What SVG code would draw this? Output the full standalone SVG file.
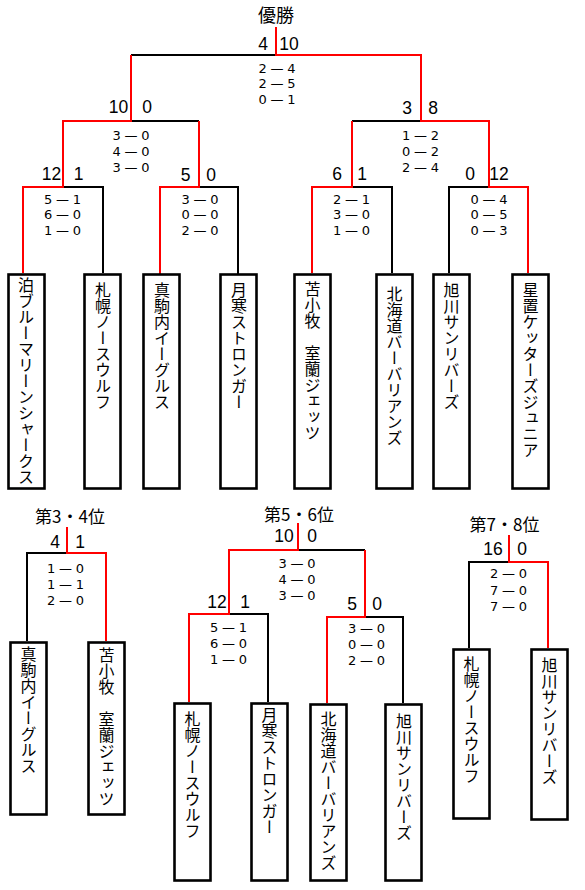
<svg xmlns="http://www.w3.org/2000/svg" width="585" height="890" viewBox="0 0 585 890">
<style>
.r{fill:none;stroke:#f00;stroke-width:2}
.k{fill:none;stroke:#000;stroke-width:2}
.box{fill:#fff;stroke:#000;stroke-width:2.6}
text{font-family:"Noto Sans CJK JP","Noto Sans CJK SC",sans-serif;fill:#000}
.nm{font-size:16px;writing-mode:vertical-rl}
.hd{font-size:17px;text-anchor:middle}
.sc{font-family:"Liberation Sans",Arial,sans-serif;font-size:17.5px;text-anchor:middle}
.rs{font-family:"DejaVu Sans",sans-serif;font-size:13px;text-anchor:middle}
</style>
<rect width="585" height="890" fill="#fff"/>
<g id="connectors">
<path class="k" d="M103,273V187H63M238,275V187H199M392,273V187H352M449,273V187H489M199,121H131M352,121H421M131,55H276"/>
<path class="r" d="M528,273V187H489V121H421V55H276V27"/>
<path class="r" d="M23,273V187H63V121H131V55"/>
<path class="r" d="M160,275V187H199V121"/>
<path class="r" d="M312,273V187H352V121"/>
<path class="k" d="M27,641V553H67"/>
<path class="r" d="M106,641V553H67V527"/>
<path class="k" d="M268,702V614H229M403,703V617H365M365,550H298"/>
<path class="r" d="M189,702V614H229V550H298V523"/>
<path class="r" d="M327,703V617H365V550"/>
<path class="k" d="M469,648V562H509"/>
<path class="r" d="M548,648V562H509V535"/>
</g>
<g id="labels">
<text class="hd" x="276" y="22" style="font-size:18px">優勝</text>
<text class="sc" x="263" y="50">4</text><text class="sc" x="289" y="50">10</text>
<text class="rs" x="277" y="73" textLength="37" lengthAdjust="spacing">2—4</text>
<text class="rs" x="277" y="88" textLength="37" lengthAdjust="spacing">2—5</text>
<text class="rs" x="277" y="104" textLength="37" lengthAdjust="spacing">0—1</text>
<text class="sc" x="118.5" y="113">10</text><text class="sc" x="147" y="113">0</text>
<text class="rs" x="131" y="140" textLength="37" lengthAdjust="spacing">3—0</text>
<text class="rs" x="131" y="156" textLength="37" lengthAdjust="spacing">4—0</text>
<text class="rs" x="131" y="172" textLength="37" lengthAdjust="spacing">3—0</text>
<text class="sc" x="407" y="114">3</text><text class="sc" x="433" y="114">8</text>
<text class="rs" x="420.5" y="140" textLength="37" lengthAdjust="spacing">1—2</text>
<text class="rs" x="420.5" y="156" textLength="37" lengthAdjust="spacing">0—2</text>
<text class="rs" x="420.5" y="172" textLength="37" lengthAdjust="spacing">2—4</text>
<text class="sc" x="51.5" y="180">12</text><text class="sc" x="78.5" y="180">1</text>
<text class="rs" x="62.5" y="204" textLength="37" lengthAdjust="spacing">5—1</text>
<text class="rs" x="62.5" y="219" textLength="37" lengthAdjust="spacing">6—0</text>
<text class="rs" x="62.5" y="235" textLength="37" lengthAdjust="spacing">1—0</text>
<text class="sc" x="185.5" y="181">5</text><text class="sc" x="211" y="181">0</text>
<text class="rs" x="200" y="204" textLength="37" lengthAdjust="spacing">3—0</text>
<text class="rs" x="200" y="219" textLength="37" lengthAdjust="spacing">0—0</text>
<text class="rs" x="200" y="235" textLength="37" lengthAdjust="spacing">2—0</text>
<text class="sc" x="337" y="180">6</text><text class="sc" x="362" y="180">1</text>
<text class="rs" x="351.5" y="204" textLength="37" lengthAdjust="spacing">2—1</text>
<text class="rs" x="351.5" y="219" textLength="37" lengthAdjust="spacing">3—0</text>
<text class="rs" x="351.5" y="235" textLength="37" lengthAdjust="spacing">1—0</text>
<text class="sc" x="470" y="180">0</text><text class="sc" x="499" y="180">12</text>
<text class="rs" x="489" y="204" textLength="37" lengthAdjust="spacing">0—4</text>
<text class="rs" x="489" y="219" textLength="37" lengthAdjust="spacing">0—5</text>
<text class="rs" x="489" y="235" textLength="37" lengthAdjust="spacing">0—3</text>
<text class="hd" x="70" y="523">第3・4位</text>
<text class="sc" x="55" y="548">4</text><text class="sc" x="80" y="548">1</text>
<text class="rs" x="65.5" y="573" textLength="37" lengthAdjust="spacing">1—0</text>
<text class="rs" x="65.5" y="589" textLength="37" lengthAdjust="spacing">1—1</text>
<text class="rs" x="65.5" y="605" textLength="37" lengthAdjust="spacing">2—0</text>
<text class="hd" x="299" y="521">第5・6位</text>
<text class="sc" x="284" y="542">10</text><text class="sc" x="312" y="542">0</text>
<text class="rs" x="297" y="568" textLength="37" lengthAdjust="spacing">3—0</text>
<text class="rs" x="297" y="584" textLength="37" lengthAdjust="spacing">4—0</text>
<text class="rs" x="297" y="600" textLength="37" lengthAdjust="spacing">3—0</text>
<text class="sc" x="217" y="608">12</text><text class="sc" x="245" y="608">1</text>
<text class="rs" x="228.5" y="632" textLength="37" lengthAdjust="spacing">5—1</text>
<text class="rs" x="228.5" y="648" textLength="37" lengthAdjust="spacing">6—0</text>
<text class="rs" x="228.5" y="664" textLength="37" lengthAdjust="spacing">1—0</text>
<text class="sc" x="352" y="610">5</text><text class="sc" x="377" y="610">0</text>
<text class="rs" x="366.5" y="633" textLength="37" lengthAdjust="spacing">3—0</text>
<text class="rs" x="366.5" y="649" textLength="37" lengthAdjust="spacing">0—0</text>
<text class="rs" x="366.5" y="665" textLength="37" lengthAdjust="spacing">2—0</text>
<text class="hd" x="504.5" y="531">第7・8位</text>
<text class="sc" x="493" y="555">16</text><text class="sc" x="522" y="555">0</text>
<text class="rs" x="508.5" y="578" textLength="37" lengthAdjust="spacing">2—0</text>
<text class="rs" x="508.5" y="595" textLength="37" lengthAdjust="spacing">7—0</text>
<text class="rs" x="508.5" y="611" textLength="37" lengthAdjust="spacing">7—0</text>
</g>
<g id="t1"><rect class="box" x="8.5" y="274.5" width="36" height="214"/><text class="nm" x="26" y="277">泊ブルーマリーンシャークス</text></g>
<g id="t2"><rect class="box" x="84.5" y="274.5" width="36" height="214"/><text class="nm" x="103" y="282">札幌ノースウルフ</text></g>
<g id="t3"><rect class="box" x="143.5" y="274.5" width="36" height="214"/><text class="nm" x="162" y="282">真駒内イーグルス</text></g>
<g id="t4"><rect class="box" x="220.5" y="274.5" width="36" height="214"/><text class="nm" x="239" y="282">月寒ストロンガー</text></g>
<g id="t5"><rect class="box" x="294.5" y="274.5" width="36" height="214"/><text class="nm" x="312.5" y="281">苫小牧　室蘭ジェッツ</text></g>
<g id="t6"><rect class="box" x="376.5" y="274.5" width="36" height="214"/><text class="nm" x="394.5" y="286">北海道バーバリアンズ</text></g>
<g id="t7"><rect class="box" x="433.5" y="274.5" width="36" height="214"/><text class="nm" x="451.5" y="282">旭川サンリバーズ</text></g>
<g id="t8"><rect class="box" x="512.5" y="274.5" width="36" height="214"/><text class="nm" x="530.5" y="282">星置ケッターズジュニア</text></g>
<g id="b1"><rect class="box" x="10.5" y="642.5" width="36" height="172"/><text class="nm" x="28.5" y="646">真駒内イーグルス</text></g>
<g id="b2"><rect class="box" x="88.5" y="642.5" width="36" height="172"/><text class="nm" x="106.5" y="647">苫小牧　室蘭ジェッツ</text></g>
<g id="b3"><rect class="box" x="174.5" y="703.5" width="36" height="177"/><text class="nm" x="192.5" y="711">札幌ノースウルフ</text></g>
<g id="b4"><rect class="box" x="251.5" y="703.5" width="36" height="177"/><text class="nm" x="269.5" y="707">月寒ストロンガー</text></g>
<g id="b5"><rect class="box" x="310.5" y="704.5" width="36" height="176"/><text class="nm" x="328.5" y="711">北海道バーバリアンズ</text></g>
<g id="b6"><rect class="box" x="385.5" y="704.5" width="36" height="176"/><text class="nm" x="404" y="713">旭川サンリバーズ</text></g>
<g id="b7"><rect class="box" x="453.5" y="649.5" width="36" height="169"/><text class="nm" x="471.5" y="656">札幌ノースウルフ</text></g>
<g id="b8"><rect class="box" x="531.5" y="649.5" width="36" height="170"/><text class="nm" x="549.5" y="657">旭川サンリバーズ</text></g>
</svg>
